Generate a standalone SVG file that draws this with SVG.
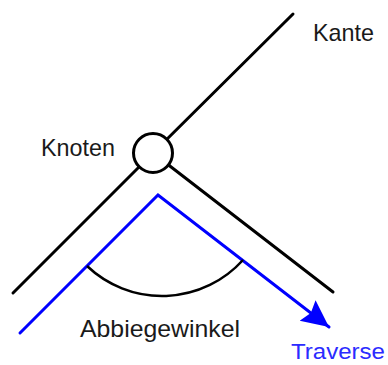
<svg xmlns="http://www.w3.org/2000/svg" width="388" height="365" viewBox="0 0 388 365">
<style>
.edge{stroke:#000;stroke-width:3;fill:none;stroke-linecap:round}
.trav{stroke:#0000ff;stroke-width:3;fill:none;stroke-linecap:round;stroke-linejoin:miter}
.lbl{font-family:"Liberation Sans",Arial,sans-serif;font-size:24px;fill:#1a1a1a}
</style>
<defs>
<marker id="arr" markerUnits="userSpaceOnUse" markerWidth="29" markerHeight="27" refX="27" refY="13" orient="auto" viewBox="0 0 29 27">
<path d="M0,0 L27,13 L0,26 L4,13 Z" fill="#0000ff"/>
</marker>
</defs>
<rect width="388" height="365" fill="#fff"/>
<g id="connectors">
<line class="edge" x1="153" y1="153" x2="293" y2="14"/>
<line class="edge" x1="153" y1="153" x2="13" y2="293"/>
<line class="edge" x1="153" y1="153" x2="333" y2="292"/>
<path class="trav" d="M20,333 L158,195 L329,327" marker-end="url(#arr)"/>
<path d="M87,266 A109,109 0 0 0 243,260" stroke="#000" stroke-width="2.5" fill="none"/>
</g>
<g id="knoten">
<circle cx="153" cy="153" r="19.5" fill="#fff" stroke="#000" stroke-width="3"/>
</g>
<g id="labels">
<text class="lbl" x="313" y="41" textLength="61" lengthAdjust="spacingAndGlyphs">Kante</text>
<text class="lbl" x="41" y="155.5" textLength="74" lengthAdjust="spacingAndGlyphs">Knoten</text>
<text class="lbl" x="80" y="337" textLength="160" lengthAdjust="spacingAndGlyphs">Abbiegewinkel</text>
<text class="lbl" x="291" y="359" textLength="94" lengthAdjust="spacingAndGlyphs" style="fill:#2b2bff;font-size:22px">Traverse</text>
</g>
</svg>
